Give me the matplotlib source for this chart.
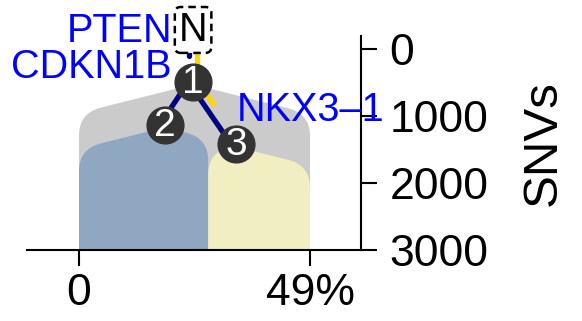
import numpy as np
import matplotlib
matplotlib.use("Agg")
from matplotlib import pyplot as plt
from matplotlib.path import Path
from matplotlib.patches import PathPatch
from matplotlib.transforms import offset_copy

plt.rcParams['font.family'] = ['Liberation Sans', 'DejaVu Sans']

# clone tree data
clone_ids = ['1', '2', '3']
clone_parent = [-1, 0, 0]          # -1 = root (N)
clone_snvs = [490, 1130, 1420]     # depth of each clone in SNVs
clone_x = [24.2, 18.2, 33.3]       # node position on the cell fraction axis (%)
clone_lo = [0.0, 0.0, 27.4]        # cell fraction span (%)
clone_hi = [49.0, 27.4, 49.0]
clone_colors = ['#cbcbcb', '#8fa7c1', '#f1efc1']
navy_frac = [0.2, 1.0, 1.0]        # share of the edge drawn in navy
gold_frac = [1.0, 0.0, 0.4]        # share of the edge drawn in gold

root_x = 24.2
root_snvs = 0

# driver genes on the edges
gene_names = ['PTEN', 'CDKN1B', 'NKX3\u20131']
gene_x = [19.7, 19.7, 33.5]
gene_y = [-270, 270, 910]
gene_ha = ['right', 'right', 'left']

xticks = [0, 49]
xtick_labels = ['0', '49%']
yticks = [0, 1000, 2000, 3000]


def clone_shape(x0, x1, px, py, bottom, slope=17.6, rx=4.7, ry=330):
    yl = py + slope * (px - x0)
    yr = py + slope * (x1 - px)
    al = min(rx / max(px - x0, 1e-6), 0.6)
    ar = min(rx / max(x1 - px, 1e-6), 0.6)
    lpt = (x0 + al * (px - x0), yl + al * (py - yl))
    rpt = (x1 - ar * (x1 - px), yr + ar * (py - yr))
    verts = [(x0, bottom), (x0, yl + ry), (x0, yl), lpt, (px, py), rpt,
             (x1, yr), (x1, yr + ry), (x1, bottom), (x0, bottom)]
    codes = [Path.MOVETO, Path.LINETO, Path.CURVE3, Path.CURVE3, Path.LINETO,
             Path.LINETO, Path.CURVE3, Path.CURVE3, Path.LINETO, Path.CLOSEPOLY]
    return Path(verts, codes)


fig = plt.figure(figsize=(5.82, 3.21), dpi=100)
ax = fig.add_axes([0.0464, 0.2212, 0.5739, 0.6667])
ax.set_xlim(-11.03, 59.82)
ax.set_ylim(3000, -194)

for i in range(len(clone_ids)):
    p = clone_shape(clone_lo[i], clone_hi[i], clone_x[i], clone_snvs[i] + 40, 3000)
    ax.add_patch(PathPatch(p, fc=clone_colors[i], ec='none', zorder=1 + i * 0.1))


def edge_part(p0, p1, frac, side, color):
    if frac <= 0:
        return
    d0 = ax.transData.transform(p0)
    d1 = ax.transData.transform(p1)
    v = d1 - d0
    n = np.array([v[1], -v[0]]) / np.hypot(*v)
    off = 2.9 * side
    tr = offset_copy(ax.transData, fig=fig, x=n[0] * off, y=n[1] * off, units='points')
    end = (p0[0] + frac * (p1[0] - p0[0]), p0[1] + frac * (p1[1] - p0[1]))
    ax.plot([p0[0], end[0]], [p0[1], end[1]], color=color, lw=3.8,
            solid_capstyle='round', transform=tr, zorder=3, clip_on=False)


for i in range(len(clone_ids)):
    j = clone_parent[i]
    if j < 0:
        p0 = (root_x, root_snvs)
    else:
        p0 = (clone_x[j], clone_snvs[j])
    p1 = (clone_x[i], clone_snvs[i])
    edge_part(p0, p1, navy_frac[i], 1, '#000080')
    edge_part(p0, p1, gold_frac[i], -1, '#ffd700')

ax.scatter(clone_x, clone_snvs, s=700, c='#333333', zorder=5, clip_on=False)
for i, cid in enumerate(clone_ids):
    ax.text(clone_x[i], clone_snvs[i] + 15, cid, color='white', fontsize=28,
            ha='center', va='center', zorder=6)

ax.text(root_x, -284, 'N', fontsize=28.5, ha='center', va='center', zorder=7,
        bbox=dict(boxstyle='round,pad=0.1,rounding_size=0.15', fc='white',
                  ec='black', lw=1.8, ls=(0, (3, 2))))

for name, gx, gy, ha in zip(gene_names, gene_x, gene_y, gene_ha):
    ax.text(gx, gy, name, color='#0000ff', fontsize=28.5, ha=ha, va='center', zorder=8)

ax.spines[['left', 'top']].set_visible(False)
ax.spines[['right', 'bottom']].set_linewidth(1.5)
ax.yaxis.tick_right()
ax.yaxis.set_label_position('right')
ax.set_yticks(yticks)
ax.set_xticks(xticks, xtick_labels)
ax.tick_params(axis='both', length=11.5, width=1.5, labelsize=32)
ax.tick_params(axis='x', pad=5)
ax.tick_params(axis='y', pad=9)
ax.set_ylabel('SNVs', fontsize=35.5, labelpad=23)

fig.savefig('out.png', dpi=100)
